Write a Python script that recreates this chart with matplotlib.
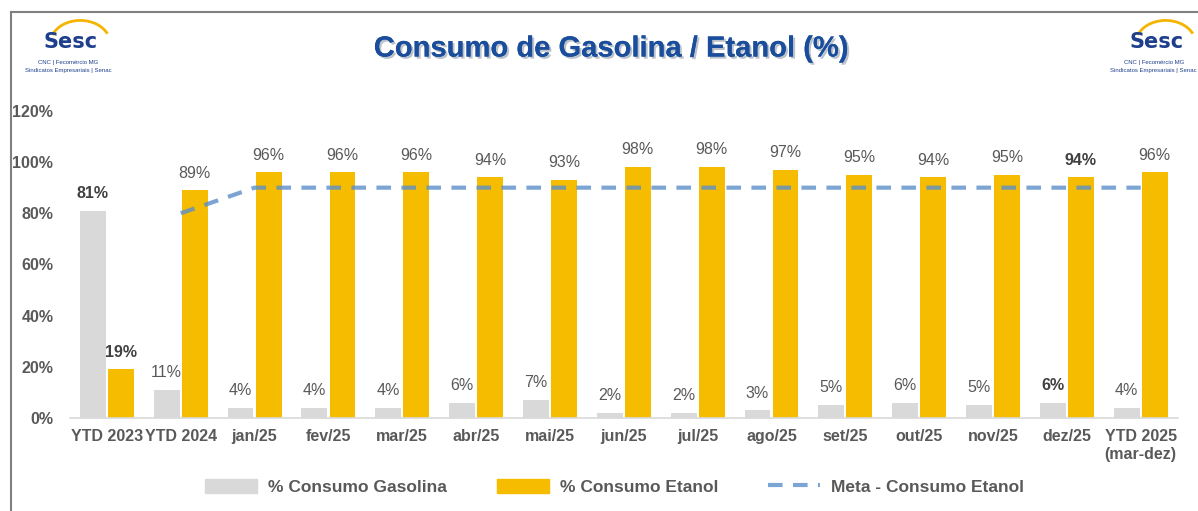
import matplotlib
matplotlib.use("Agg")
import matplotlib.pyplot as plt
import numpy as np
from matplotlib import font_manager
from matplotlib.patches import Arc
from matplotlib.lines import Line2D
from matplotlib.patches import Patch
import matplotlib.patheffects as pe

categorias = ['YTD 2023', 'YTD 2024', 'jan/25', 'fev/25', 'mar/25', 'abr/25', 'mai/25',
              'jun/25', 'jul/25', 'ago/25', 'set/25', 'out/25', 'nov/25', 'dez/25',
              'YTD 2025\n(mar-dez)']
gasolina = [81, 11, 4, 4, 4, 6, 7, 2, 2, 3, 5, 6, 5, 6, 4]
etanol = [19, 89, 96, 96, 96, 94, 93, 98, 98, 97, 95, 94, 95, 94, 96]
meta = [np.nan, 80, 90, 90, 90, 90, 90, 90, 90, 90, 90, 90, 90, 90, 90]
# rotulos em negrito no original
negrito_gas = [0, 13]
negrito_eta = [0, 13]

nomes = [f.name for f in font_manager.fontManager.ttflist]
fonte = 'Liberation Sans Narrow' if 'Liberation Sans Narrow' in nomes else 'Liberation Sans'
plt.rcParams['font.family'] = [fonte, 'DejaVu Sans']

CINZA_TXT = '#595959'
COR_GAS = '#D9D9D9'
COR_ETA = '#F5BC00'
COR_META = '#5B8FC9'

fig = plt.figure(figsize=(11.98, 5.11), dpi=100)
ax = fig.add_axes([0.0584, 0.182, 0.9246, 0.601])

x = np.arange(len(categorias))
w = 0.35
off = 0.19
ax.bar(x - off, [v / 100 for v in gasolina], w, color=COR_GAS, zorder=2)
ax.bar(x + off, [v / 100 for v in etanol], w, color=COR_ETA, zorder=2)
ax.plot(x, [v / 100 for v in meta], color=COR_META, lw=3, alpha=0.8,
        dashes=(3.5, 2.5), zorder=3)

for i in range(len(x)):
    ax.annotate(f'{gasolina[i]}%', (x[i] - off, gasolina[i] / 100), xytext=(0, 7),
                textcoords='offset points', ha='center', va='bottom', fontsize=11.5,
                color='#404040' if i in negrito_gas else CINZA_TXT,
                fontweight='bold' if i in negrito_gas else 'normal')
    ax.annotate(f'{etanol[i]}%', (x[i] + off, etanol[i] / 100), xytext=(0, 7),
                textcoords='offset points', ha='center', va='bottom', fontsize=11.5,
                color='#404040' if i in negrito_eta else CINZA_TXT,
                fontweight='bold' if i in negrito_eta else 'normal')

ax.set_xlim(-0.5, len(x) - 0.5)
ax.set_ylim(0, 1.2)
ax.set_yticks(np.arange(0, 1.21, 0.2))
ax.set_yticklabels([f'{int(round(t * 100))}%' for t in np.arange(0, 1.21, 0.2)])
ax.set_xticks(x)
ax.set_xticklabels(categorias)
ax.tick_params(axis='both', length=0, labelsize=11.5, labelcolor=CINZA_TXT)
ax.tick_params(axis='y', pad=12)
ax.tick_params(axis='x', pad=8)
for lab in ax.get_xticklabels() + ax.get_yticklabels():
    lab.set_fontweight('bold')
for s in ['top', 'right', 'left']:
    ax.spines[s].set_visible(False)
ax.spines['bottom'].set_color('#D9D9D9')
ax.spines['bottom'].set_linewidth(1.2)

handles = [Patch(color=COR_GAS), Patch(color=COR_ETA),
           Line2D([], [], color=COR_META, lw=3, alpha=0.8, dashes=(3.5, 2.5))]
leg = fig.legend(handles, ['% Consumo Gasolina', '% Consumo Etanol', 'Meta - Consumo Etanol'],
                 loc='center', bbox_to_anchor=(0.513, 0.047), ncol=3, frameon=False,
                 handlelength=3.0, handleheight=0.9, columnspacing=2.9, handletextpad=0.6,
                 prop={'size': 12.5, 'weight': 'bold'})
for t in leg.get_texts():
    t.set_color(CINZA_TXT)

fig.text(0.51, 0.905, 'Consumo de Gasolina / Etanol (%)', ha='center', va='center',
         fontsize=21, fontweight='bold', color='#1A4E9C',
         path_effects=[pe.withSimplePatchShadow(offset=(1.5, -1.5), shadow_rgbFace='#7a8696', alpha=0.5),
                       pe.Normal()])

# logos Sesc
def logo(cx):
    fig.text(cx + 0.002, 0.918, 'Sesc', ha='center', va='center', fontsize=15, fontweight='bold',
             color='#1E3F8C', family='DejaVu Sans')
    fig.patches.append(Arc((cx + 0.01, 0.915), 0.05, 0.09, theta1=40, theta2=145,
                           transform=fig.transFigure, color='#F5B400', lw=2))
    fig.text(cx, 0.877, 'CNC | Fecomércio MG', ha='center', va='center', fontsize=4.3,
             color='#1E3F8C')
    fig.text(cx, 0.863, 'Sindicatos Empresariais | Senac', ha='center', va='center',
             fontsize=4.3, color='#1E3F8C')

logo(0.057)
logo(0.963)

# moldura
fig.add_artist(Line2D([0.009, 0.009], [0, 0.977], transform=fig.transFigure, color='#808080', lw=1.5))
fig.add_artist(Line2D([0.009, 1], [0.977, 0.977], transform=fig.transFigure, color='#808080', lw=1.5))

fig.savefig('out.png', dpi=100)
